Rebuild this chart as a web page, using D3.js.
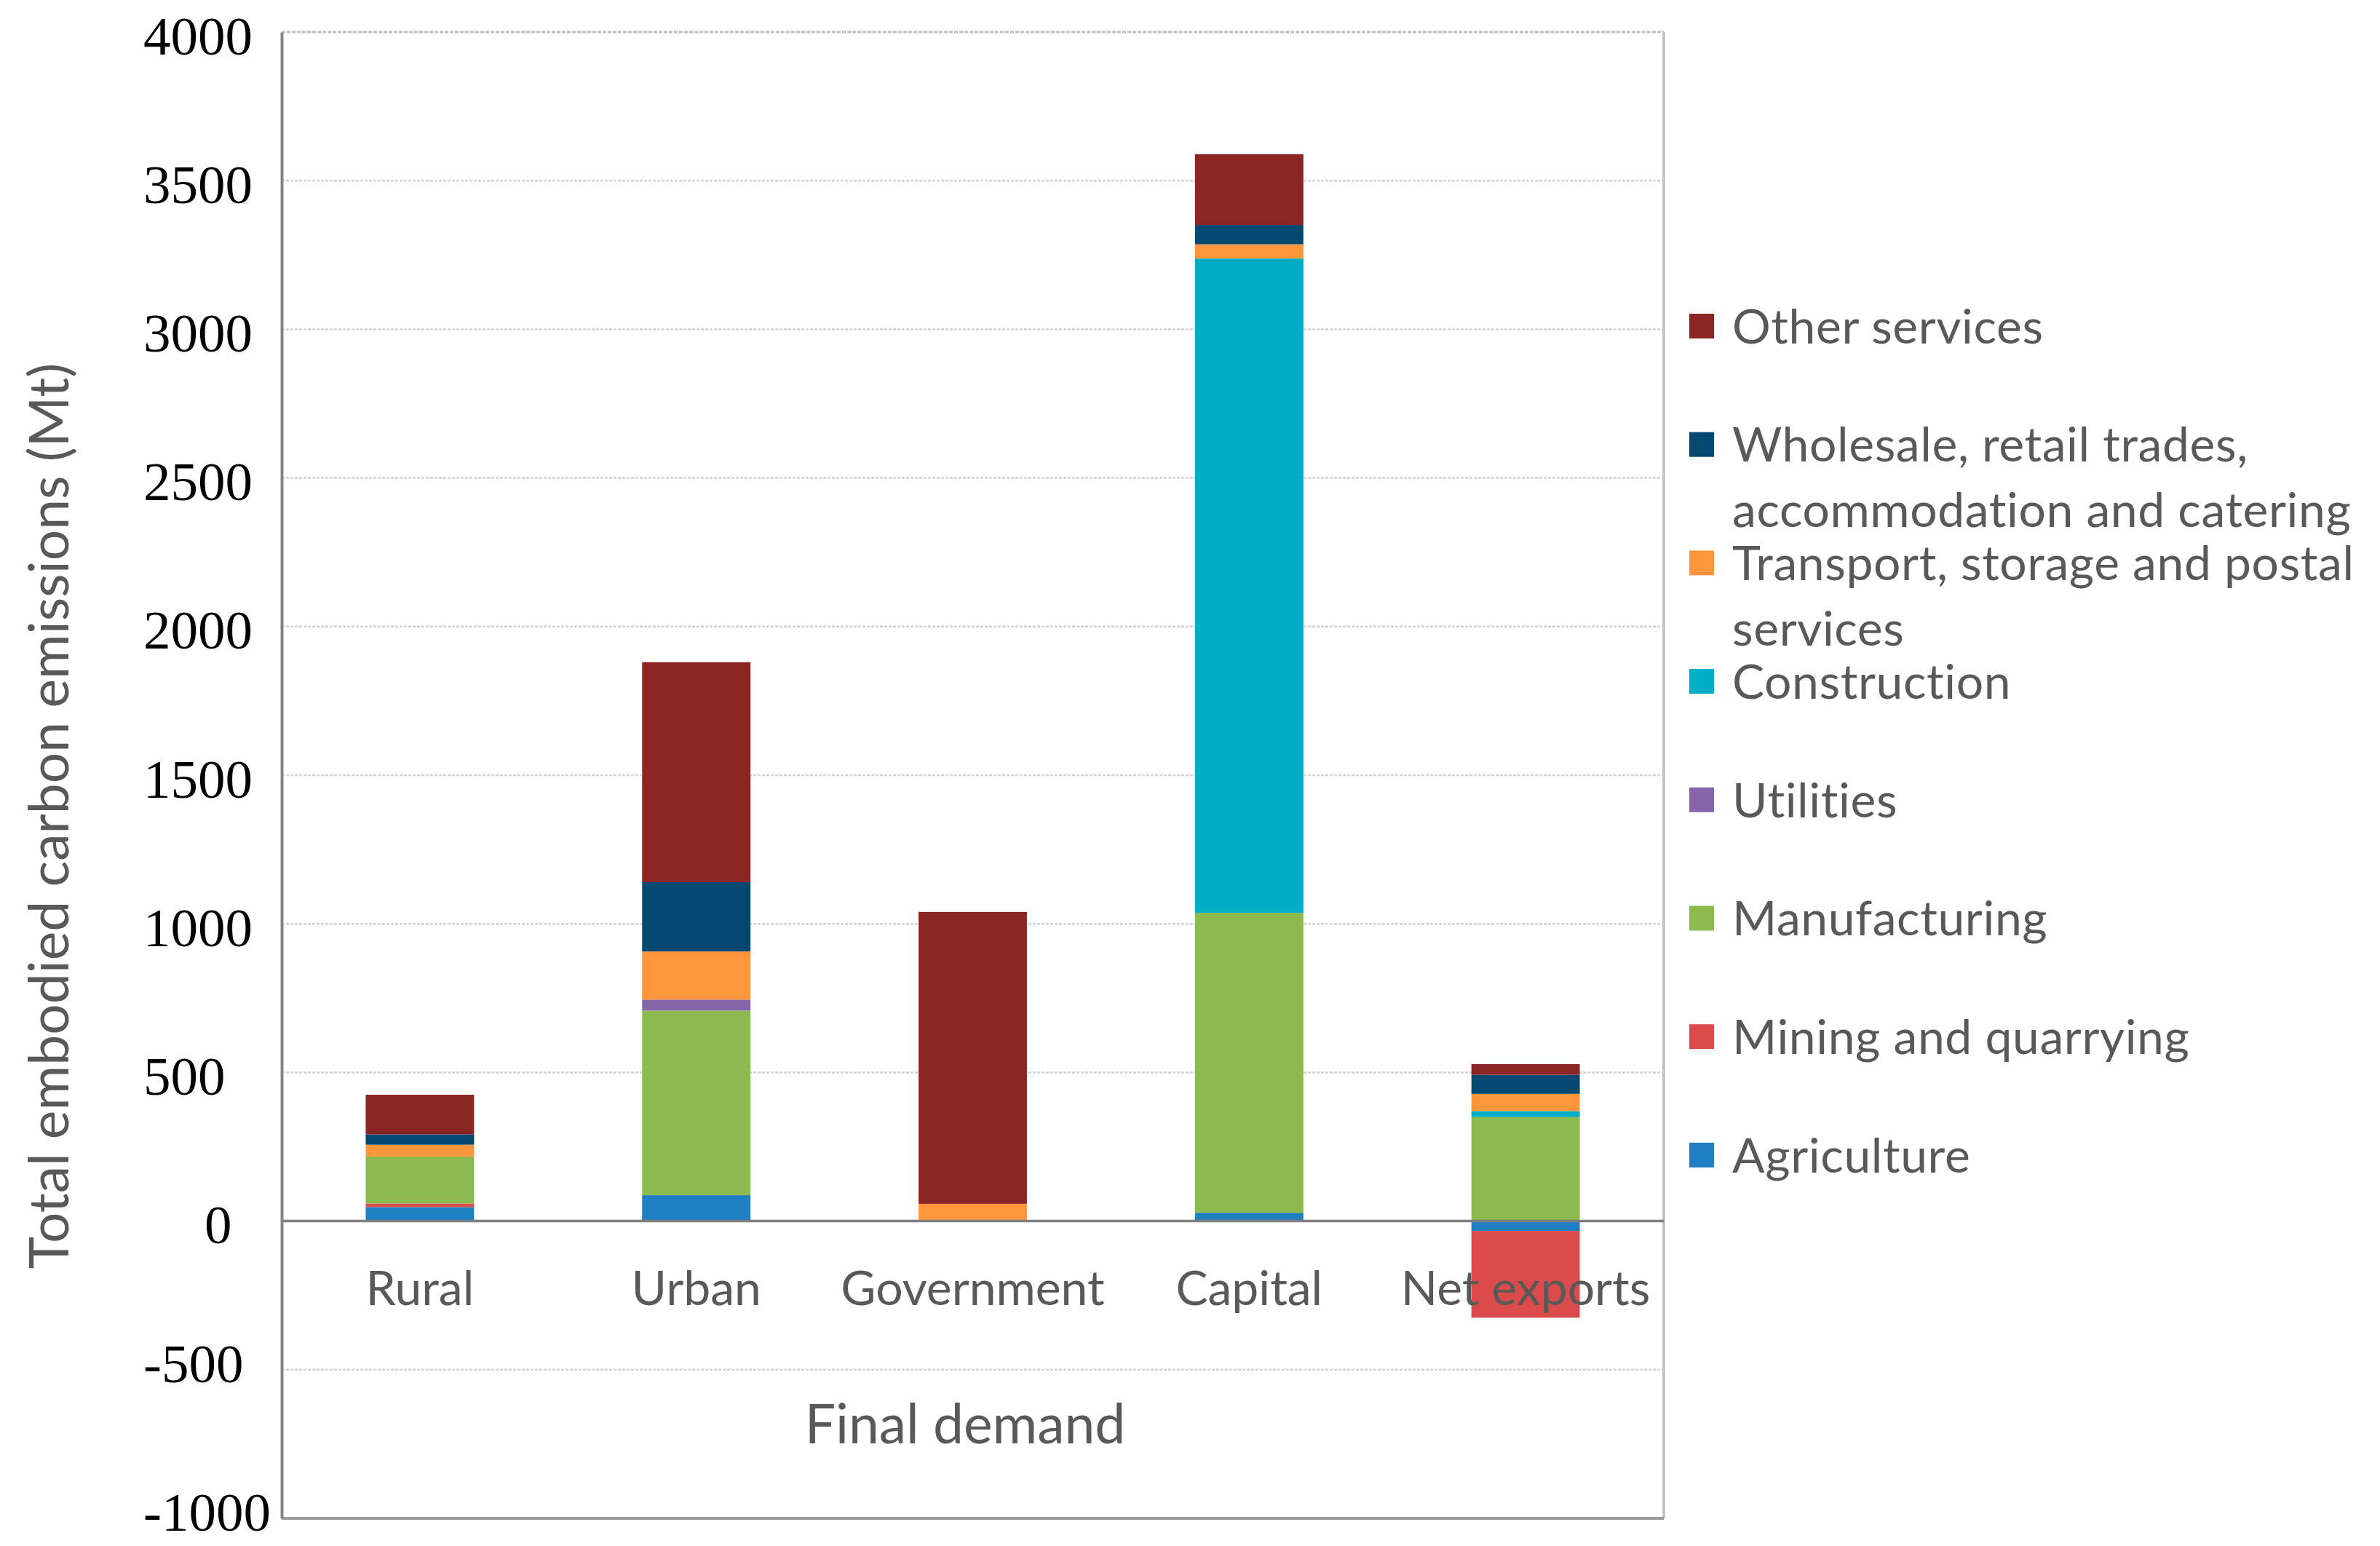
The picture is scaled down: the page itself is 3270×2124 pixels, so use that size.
<!DOCTYPE html>
<html>
<head>
<meta charset="utf-8">
<script src="https://cdn.jsdelivr.net/npm/d3@7"></script>
<style>
  body { margin: 0; background: #fff; }
  text { font-family: Lato, "Open Sans", sans-serif; }
</style>
</head>
<body>
<script>
// final demand categories
var categories = ["Rural", "Urban", "Government", "Capital", "Net exports"];

// sector values (Mt), one value per category
var agriculture   = [47, 87, 0, 28, -33];
var mining        = [12, 0, 0, 0, -292];
var manufacturing = [158, 621, 0, 1009, 350];
var utilities     = [0, 37, 0, 0, 0];
var construction  = [0, 0, 0, 2201, 20];
var transport     = [40, 162, 58, 48, 58];
var wholesale     = [35, 233, 0, 65, 64];
var otherServices = [133, 740, 982, 238, 36];

var sectors = ["Agriculture", "Mining and quarrying", "Manufacturing", "Utilities",
  "Construction", "Transport, storage and postal services",
  "Wholesale, retail trades, accommodation and catering", "Other services"];
var sectorValues = [agriculture, mining, manufacturing, utilities,
  construction, transport, wholesale, otherServices];
var sectorColors = ["#1f7fc3", "#db4b4b", "#8cba4e", "#8765ab",
  "#00adc6", "#ff963c", "#04486f", "#8a2523"];

// legend text, wrapped like the original (top to bottom)
var legendLines = [
  ["Other services"],
  ["Wholesale, retail trades,", "accommodation and catering"],
  ["Transport, storage and postal", "services"],
  ["Construction"],
  ["Utilities"],
  ["Manufacturing"],
  ["Mining and quarrying"],
  ["Agriculture"]
];

var yTicks = [-1000, -500, 0, 500, 1000, 1500, 2000, 2500, 3000, 3500, 4000];

var svgWidth = 3270;
var svgHeight = 2124;
var plot = { left: 387, right: 2286, top: 44, bottom: 2086 };

var svg = d3.select("body")
  .append("svg")
  .attr("width", svgWidth)
  .attr("height", svgHeight);

var rows = categories.map(function(c, i) {
  var r = { category: c };
  sectors.forEach(function(s, j) { r[s] = sectorValues[j][i]; });
  return r;
});

var stack = d3.stack()
  .keys(sectors)
  .order(d3.stackOrderNone)
  .offset(d3.stackOffsetDiverging);
var series = stack(rows);

var xScale = d3.scaleBand()
  .domain(categories)
  .range([plot.left, plot.right])
  .paddingInner(0.608)
  .paddingOuter(0.304);

var yScale = d3.scaleLinear()
  .domain([-1000, 4000])
  .range([plot.bottom, plot.top]);

// gridlines
svg.append("g")
  .selectAll("line")
  .data(yTicks.filter(function(t) { return t !== 0 && t !== 4000 && t !== -1000; }))
  .enter()
  .append("line")
  .attr("x1", plot.left)
  .attr("x2", plot.right)
  .attr("y1", function(d) { return yScale(d); })
  .attr("y2", function(d) { return yScale(d); })
  .attr("stroke", "#d2d2d2")
  .attr("stroke-width", 2.5)
  .attr("stroke-dasharray", "4,2");

// frame: top and right light, bottom darker
svg.append("line")
  .attr("x1", plot.left).attr("x2", plot.right)
  .attr("y1", yScale(4000)).attr("y2", yScale(4000))
  .attr("stroke", "#bdbdbd").attr("stroke-width", 3)
  .attr("stroke-dasharray", "5,2");
svg.append("line")
  .attr("x1", plot.right).attr("x2", plot.right)
  .attr("y1", plot.top).attr("y2", plot.bottom)
  .attr("stroke", "#c4c4c4").attr("stroke-width", 4);
svg.append("line")
  .attr("x1", plot.left).attr("x2", plot.right)
  .attr("y1", plot.bottom).attr("y2", plot.bottom)
  .attr("stroke", "#9a9a9a").attr("stroke-width", 4);

// bars
svg.append("g")
  .selectAll("g")
  .data(series)
  .enter()
  .append("g")
  .attr("fill", function(d, i) { return sectorColors[i]; })
  .selectAll("rect")
  .data(function(d) { return d; })
  .enter()
  .append("rect")
  .attr("x", function(d) { return xScale(d.data.category); })
  .attr("width", xScale.bandwidth())
  .attr("y", function(d) { return yScale(Math.max(d[0], d[1])); })
  .attr("height", function(d) { return Math.abs(yScale(d[0]) - yScale(d[1])); });

// zero line
svg.append("line")
  .attr("x1", plot.left).attr("x2", plot.right)
  .attr("y1", yScale(0)).attr("y2", yScale(0))
  .attr("stroke", "#7f7f7f").attr("stroke-width", 3.5);

// y axis
var leftAxis = d3.axisLeft(yScale)
  .tickValues(yTicks)
  .tickSize(0)
  .tickFormat(function(d) { return String(d); });

var yAxisG = svg.append("g")
  .attr("transform", `translate(${plot.left}, 0)`)
  .call(leftAxis);
yAxisG.select(".domain")
  .attr("stroke", "#868686")
  .attr("stroke-width", 4);
yAxisG.selectAll("text")
  .style("font-family", "'Liberation Serif', 'DejaVu Serif', serif")
  .attr("font-size", 75)
  .attr("fill", "#000")
  .attr("text-anchor", "start")
  .attr("x", function(d) { return d === 0 ? -106 : -190; })
  .attr("dy", function(d) { return d < 0 ? "0.22em" : "0.4em"; });

// category labels (drawn over the bars)
svg.append("g")
  .selectAll("text")
  .data(categories)
  .enter()
  .append("text")
  .attr("x", function(d) { return xScale(d) + xScale.bandwidth() / 2; })
  .attr("y", 1793)
  .attr("text-anchor", "middle")
  .attr("font-size", 66)
  .attr("fill", "#595959")
  .text(function(d) { return d; });

svg.append("text")
  .attr("x", 1326)
  .attr("y", 1983)
  .attr("text-anchor", "middle")
  .attr("font-size", 75)
  .attr("fill", "#595959")
  .text("Final demand");

svg.append("text")
  .attr("transform", "translate(68, 1121) rotate(-90)")
  .attr("text-anchor", "middle")
  .attr("dy", "0.35em")
  .attr("font-size", 75)
  .attr("fill", "#595959")
  .text("Total embodied carbon emissions (Mt)");

// legend
var legend = svg.append("g");
var legendItem = legend.selectAll("g")
  .data(legendLines)
  .enter()
  .append("g")
  .attr("transform", function(d, i) { return `translate(2321, ${448 + i * 162.7})`; });

legendItem.append("rect")
  .attr("x", 0)
  .attr("y", -17)
  .attr("width", 34)
  .attr("height", 34)
  .attr("fill", function(d, i) { return sectorColors[sectorColors.length - 1 - i]; });

legendItem.append("text")
  .attr("font-size", 66)
  .attr("letter-spacing", 0.6)
  .attr("fill", "#595959")
  .selectAll("tspan")
  .data(function(d) { return d; })
  .enter()
  .append("tspan")
  .attr("x", 59)
  .attr("y", function(d, i) { return i * 90; })
  .attr("dy", "0.36em")
  .text(function(d) { return d; });
</script>
</body>
</html>
